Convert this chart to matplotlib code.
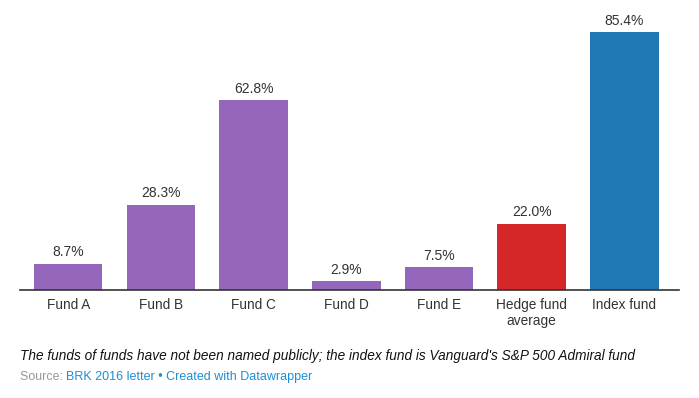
import matplotlib
matplotlib.use('Agg')
import matplotlib.pyplot as plt

# data
labels = ['Fund A', 'Fund B', 'Fund C', 'Fund D', 'Fund E', 'Hedge fund\naverage', 'Index fund']
values = [8.7, 28.3, 62.8, 2.9, 7.5, 22.0, 85.4]
colors = ['#9467bd'] * 5 + ['#d62728', '#1f77b4']

plt.rcParams['font.family'] = ['Liberation Sans', 'DejaVu Sans']

fig = plt.figure(figsize=(6.99, 3.98), dpi=100)
ax = fig.add_axes([20 / 699, 1 - 290 / 398, 659 / 699, 290 / 398])

x = range(len(values))
bars = ax.bar(x, values, width=0.74, color=colors)
for b, v in zip(bars, values):
    ax.text(b.get_x() + b.get_width() / 2, v + 1.4, '%.1f%%' % v,
            ha='center', va='bottom', fontsize=10, color='#333333')

ax.set_xlim(-0.52, 6.59)
ax.set_ylim(0, 96)
ax.set_xticks(list(x))
ax.set_xticklabels(labels, fontsize=9.8, color='#333333', linespacing=1.15)
ax.tick_params(axis='x', length=0, pad=6)
ax.set_yticks([])
for s in ['top', 'right', 'left']:
    ax.spines[s].set_visible(False)
ax.spines['bottom'].set_color('#333333')
ax.spines['bottom'].set_linewidth(1.2)

fig.text(20 / 699, 1 - 356 / 398,
         "The funds of funds have not been named publicly; the index fund is Vanguard's S&P 500 Admiral fund",
         fontsize=9.8, style='italic', color='#111111', va='center')
t = fig.text(20 / 699, 1 - 377 / 398, 'Source: ', fontsize=9, color='#999999', va='center')
fig.canvas.draw()
bb = t.get_window_extent()
fig.text(bb.x1 / fig.bbox.width, 1 - 377 / 398, 'BRK 2016 letter \u2022 Created with Datawrapper',
         fontsize=9, color='#1d8ed6', va='center')

fig.savefig('out.png', dpi=100)
